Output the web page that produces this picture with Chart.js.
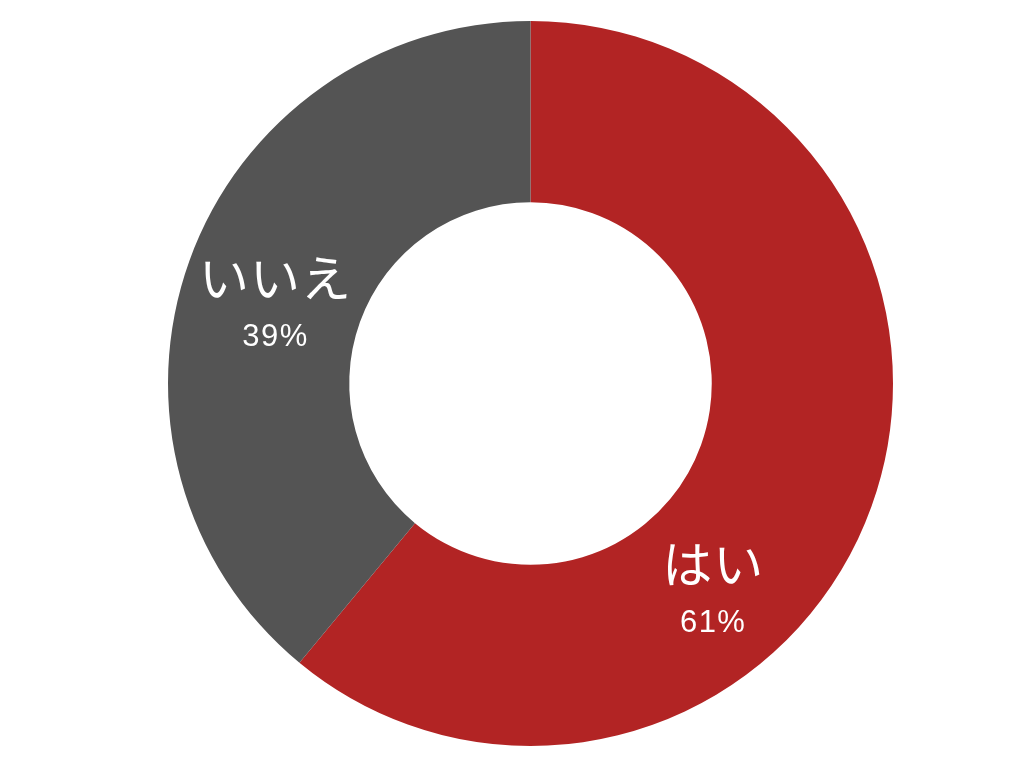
<!DOCTYPE html>
<html lang="ja">
<head>
<meta charset="utf-8">
<title>はい / いいえ</title>
<script src="https://cdn.jsdelivr.net/npm/chart.js@4"></script>
<style>
  html, body { margin: 0; padding: 0; background: #ffffff; }
  #wrap { width: 1024px; height: 768px; }
</style>
</head>
<body>
<div id="wrap"><canvas id="donut" width="1024" height="768"></canvas></div>
<script>
// データ
const labels = ["はい", "いいえ"];
const values = [61, 39];
const colors = ["#B22424", "#545454"];

// スライス内のラベル（名前 + パーセント）を描くプラグイン
const sliceLabels = {
    id: "sliceLabels",
    afterDatasetsDraw(chart, args, opts) {
        const ctx = chart.ctx;
        const meta = chart.getDatasetMeta(0);
        const data = chart.data.datasets[0].data;
        const total = data.reduce((a, b) => a + b, 0);

        meta.data.forEach((arc, i) => {
            const p = arc.getProps(["x", "y", "startAngle", "endAngle", "innerRadius", "outerRadius"], true);
            const angle = (p.startAngle + p.endAngle) / 2 + (opts.angleShift[i] || 0) * Math.PI / 180;
            const r = p.innerRadius + (p.outerRadius - p.innerRadius) * (opts.radial[i] || 0.5);
            const cx = p.x + Math.cos(angle) * r;
            const cy = p.y + Math.sin(angle) * r;

            ctx.save();
            ctx.fillStyle = "#ffffff";
            ctx.textAlign = "center";
            ctx.textBaseline = "middle";

            ctx.font = "50px 'Noto Sans CJK JP', sans-serif";
            ctx.letterSpacing = "1px";
            ctx.fillText(chart.data.labels[i], cx, cy - 28);

            ctx.font = "31px 'Liberation Sans', Arial, sans-serif";
            ctx.letterSpacing = "1.5px";
            const pct = Math.round(data[i] / total * 100) + "%";
            ctx.fillText(pct, cx, cy + 31);
            ctx.restore();
        });
    }
};

new Chart(document.getElementById("donut"), {
    type: "doughnut",
    data: {
        labels: labels,
        datasets: [{
            data: values,
            backgroundColor: colors,
            borderWidth: 0,
            hoverOffset: 0
        }]
    },
    options: {
        responsive: false,
        animation: false,
        cutout: "50%",
        layout: {
            padding: { top: 21, bottom: 22, left: 56, right: 19 }
        },
        plugins: {
            legend: { display: false },
            tooltip: { enabled: false },
            sliceLabels: {
                angleShift: [29, -3],
                radial: [0.53, 0.47]
            }
        }
    },
    plugins: [sliceLabels]
});
</script>
</body>
</html>
